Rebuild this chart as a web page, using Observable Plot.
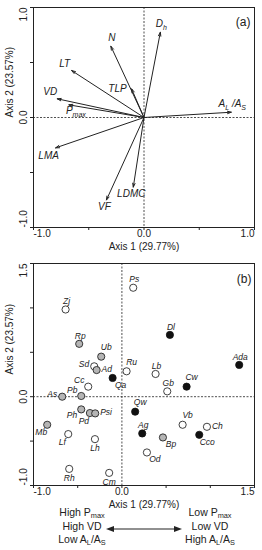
<!DOCTYPE html>
<html><head><meta charset="utf-8">
<script src="https://cdn.jsdelivr.net/npm/d3@7"></script>
<script src="https://cdn.jsdelivr.net/npm/@observablehq/plot@0.6"></script>
<style>
body{margin:0;background:#fff;}
#wrap{position:relative;width:262px;height:550px;font-family:"Liberation Sans",Arial,sans-serif;color:#222;}
.blk{position:absolute;width:100px;text-align:center;font-size:10.5px;line-height:13.5px;}
.blk sub{font-size:70%;vertical-align:-2px;line-height:0;}
</style></head>
<body><div id="wrap"></div>
<script>
// ---------- Panel (a): trait loadings ----------
const traitLabels = ["D_h","N","LT","TLP","VD","P_max","A_L /A_S","LMA","LDMC","VF"];
const traitAxis1  = [0.148,-0.30,-0.655,-0.112,-0.785,-0.68,0.79,-0.80,-0.097,-0.34];
const traitAxis2  = [0.775,0.648,0.427,0.26,0.17,0.115,0.048,-0.276,-0.633,-0.75];
const traitPlace  = ["n","n","nw","w","nw","se","n","sw","s","s"];

// ---------- Panel (b): species scores ----------
const species = ["Ps","Zj","Dl","Rp","Ub","Ada","Sd","Ad","Ru","Lb","Qa","Cc","Cw","Gb","As","Pb","Qw","Ph","Pd","Psi","Vb","Mb","Ch","Ag","Cco","Lf","Bp","Lh","Od","Rh","Cm"];
const speciesAxis1 = [0.128,-0.637,0.543,-0.483,-0.234,1.327,-0.313,-0.286,0.053,0.381,-0.105,-0.381,0.732,0.513,-0.675,-0.46,0.15,-0.46,-0.362,-0.302,0.687,-0.845,0.962,0.23,0.875,-0.607,0.464,-0.305,0.283,-0.596,-0.144];
const speciesAxis2 = [1.227,0.982,0.696,0.595,0.451,0.358,0.342,0.30,0.286,0.256,0.211,0.113,0.113,0.06,0.0,0.008,-0.169,-0.143,-0.184,-0.188,-0.316,-0.316,-0.339,-0.414,-0.429,-0.421,-0.459,-0.478,-0.628,-0.813,-0.858];
const speciesGroup = ["open","open","black","gray","gray","black","open","gray","open","open","black","open","black","open","gray","gray","black","gray","gray","gray","open","gray","open","black","black","open","gray","open","open","open","open"];
const speciesPlace = ["n","n","n","n","ne","n","w","e","ne","n","se","nw","ne","n","w","nw","ne","wsw","sw","e","ne","sw","e","n","se","sw","se","s","se","s","s"];

const ticksA = [-1,-0.5,0,0.5,1];
const labeledA = [-1,0,1];
const ticksB = [-1,-0.5,0,0.5,1,1.5];
const labeledB = [-1,0,1.5];
const xTitle = "Axis 1 (29.77%)";
const yTitle = "Axis 2 (23.57%)";

const font = '"Liberation Sans", Arial, sans-serif';
const fillOf = {open:"#ffffff", gray:"#b5b5b5", black:"#111111"};

const traits = traitLabels.map((t,i)=>({label:t, x:traitAxis1[i], y:traitAxis2[i], place:traitPlace[i]}));
const pts = species.map((s,i)=>({label:s, x:speciesAxis1[i], y:speciesAxis2[i], group:speciesGroup[i], place:speciesPlace[i]}));

const offA = {n:{dx:1,dy:-8,a:"middle"}, nw:{dx:-7,dy:-7,a:"middle"}, w:{dx:-5,dy:0,a:"end"},
              se:{dx:7,dy:6,a:"middle"}, sw:{dx:-7,dy:8,a:"middle"}, s:{dx:-2,dy:7,a:"middle"}};
const offB = {n:{dx:1,dy:-8,a:"middle"}, ne:{dx:5,dy:-9,a:"middle"}, e:{dx:5,dy:-1,a:"start"},
              w:{dx:-5,dy:-2,a:"end"}, nw:{dx:-9,dy:-6,a:"middle"}, se:{dx:8,dy:7,a:"middle"},
              s:{dx:0,dy:9,a:"middle"}, sw:{dx:-6,dy:8,a:"middle"}, wsw:{dx:-4,dy:6,a:"end"}};

function labelMarks(data, off, size){
  return Object.keys(off).map(k => Plot.text(data.filter(d=>d.place===k), {
    x:"x", y:"y", text:"label", dx:off[k].dx, dy:off[k].dy, textAnchor:off[k].a,
    fontStyle:"italic", fontSize:size, fill:"#222"}));
}
function axes(ticks, labeled){
  const lo = labeled[0], hi = labeled[labeled.length-1];
  const mid = labeled.slice(1, -1);
  const fmt = d => d.toFixed(1);
  const xt = (vals, anchor) => Plot.text(vals, {x:d=>d, text:fmt, frameAnchor:"bottom", dy:9, textAnchor:anchor, fontSize:10, fill:"#222"});
  const yt = (vals, anchor) => Plot.text(vals, {y:d=>d, text:fmt, frameAnchor:"left", dx:-10, rotate:-90, textAnchor:anchor, fontSize:10, fill:"#222"});
  return [
    Plot.axisX({ticks, tickFormat:()=>"", tickSize:3, label:null}),
    Plot.axisY({ticks, tickFormat:()=>"", tickSize:3, label:null}),
    xt([lo],"start"), xt(mid,"middle"), xt([hi],"end"),
    yt([lo],"start"), yt(mid,"middle"), yt([hi],"end"),
    Plot.text([xTitle], {frameAnchor:"bottom", dy:22, fontSize:10, fill:"#222"}),
    Plot.text([yTitle], {frameAnchor:"left", dx:-24, rotate:-90, fontSize:10, fill:"#222"})
  ];
}

const plotA = Plot.plot({
  width:262, height:257, marginLeft:33, marginRight:8, marginTop:7, marginBottom:30,
  x:{domain:[-1,1]}, y:{domain:[-1,1]},
  style:{fontFamily:font, fontSize:"10px", color:"#222", background:"#fff"},
  marks:[
    Plot.ruleX([0], {strokeDasharray:"2,1.5", stroke:"#222", strokeWidth:0.8}),
    Plot.ruleY([0], {strokeDasharray:"2,1.5", stroke:"#222", strokeWidth:0.8}),
    Plot.arrow(traits, {x1:0, y1:0, x2:"x", y2:"y", stroke:"#222", strokeWidth:1, headLength:6, headAngle:35}),
    ...labelMarks(traits, offA, 10),
    ...axes(ticksA, labeledA),
    Plot.text(["(a)"], {frameAnchor:"top-right", dx:-4, dy:10, fontSize:12, fill:"#222"}),
    Plot.frame({stroke:"#222"})
  ]
});

const plotB = Plot.plot({
  width:262, height:256, marginLeft:33, marginRight:8, marginTop:6, marginBottom:28,
  x:{domain:[-1,1.5]}, y:{domain:[-1,1.5]},
  style:{fontFamily:font, fontSize:"10px", color:"#222", background:"#fff"},
  marks:[
    Plot.ruleX([0], {strokeDasharray:"2,1.5", stroke:"#222", strokeWidth:0.8}),
    Plot.ruleY([0], {strokeDasharray:"2,1.5", stroke:"#222", strokeWidth:0.8}),
    Plot.dot(pts, {x:"x", y:"y", r:3.6, fill:d=>fillOf[d.group], stroke:"#111", strokeWidth:0.8}),
    ...labelMarks(pts, offB, 8.5),
    ...axes(ticksB, labeledB),
    Plot.text(["(b)"], {frameAnchor:"top-right", dx:-3, dy:11, fontSize:12, fill:"#222"}),
    Plot.frame({stroke:"#222"})
  ]
});

function subscriptify(svg){
  d3.select(svg).selectAll("text").each(function(){
    const s = this.textContent;
    if (!s.includes("_")) return;
    while (this.firstChild) this.removeChild(this.firstChild);
    const re = /_([A-Za-z]+)/g; let last = 0, m, shifted = false;
    const add = (txt, sub) => {
      const t = document.createElementNS("http://www.w3.org/2000/svg","tspan");
      t.textContent = txt;
      if (sub) { t.setAttribute("font-size","70%"); t.setAttribute("dy","3"); shifted = true; }
      else if (shifted) { t.setAttribute("dy","-3"); shifted = false; }
      this.appendChild(t);
    };
    while ((m = re.exec(s))) {
      if (m.index > last) add(s.slice(last, m.index), false);
      add(m[1], true);
      last = re.lastIndex;
    }
    if (last < s.length) add(s.slice(last), false);
  });
}
subscriptify(plotA);

const wrap = document.getElementById("wrap");
const place = (el, top) => { const d = document.createElement("div"); d.style.position="absolute"; d.style.left="0px"; d.style.top=top+"px"; d.appendChild(el); wrap.appendChild(d); };
place(plotA, 0);
place(plotB, 257);

const left = document.createElement("div"); left.className="blk"; left.style.left="32px"; left.style.top="506px";
left.innerHTML = "High P<sub>max</sub><br>High VD<br>Low A<sub>L</sub>/A<sub>S</sub>";
const right = document.createElement("div"); right.className="blk"; right.style.left="160px"; right.style.top="506px";
right.innerHTML = "Low P<sub>max</sub><br>Low VD<br>High A<sub>L</sub>/A<sub>S</sub>";
wrap.appendChild(left); wrap.appendChild(right);
const arr = document.createElement("div"); arr.style.position="absolute"; arr.style.left="104px"; arr.style.top="521px";
arr.innerHTML = '<svg width="80" height="12"><line x1="6" y1="6" x2="74" y2="6" stroke="#222" stroke-width="1.2"/><path d="M2,6 L10,3 L10,9 Z" fill="#222"/><path d="M78,6 L70,3 L70,9 Z" fill="#222"/></svg>';
wrap.appendChild(arr);
</script></body></html>
